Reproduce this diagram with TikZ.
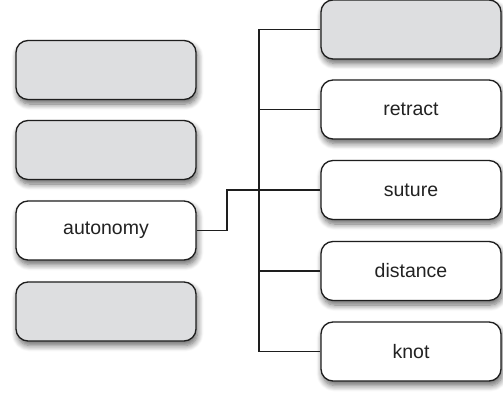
\documentclass[tikz,border=0pt]{standalone}
\usepackage{fontspec}
\setmainfont{Liberation Sans}
\usetikzlibrary{shadows.blur}
\definecolor{boxgray}{HTML}{DDDEE0}
\definecolor{edge}{HTML}{1E1E1E}
\definecolor{ink}{HTML}{222222}
\tikzset{
  card/.style={draw=edge, line width=1.3pt, rounded corners=12pt,
    minimum width=180pt, minimum height=59pt, inner sep=0pt, fill=white, text=ink,
    blur shadow={shadow xshift=1.5pt, shadow yshift=-4.5pt, shadow blur steps=8, shadow blur radius=6pt, shadow opacity=60},
    font=\fontsize{19.5}{22}\selectfont},
  blank/.style={card, fill=boxgray},
  link/.style={draw=edge, line width=1.1pt}
}
\begin{document}
\begin{tikzpicture}[x=1pt,y=-1pt]
\useasboundingbox (0,0) rectangle (503,393);
\node[blank] (l1) at (106,70) {};
\node[blank] (l2) at (106,150) {};
\node[card] (auto) at (106,230.5) {autonomy};
\node[blank] (l4) at (106,311.5) {};
\node[blank] (r1) at (411,29.5) {};
\node[card] (r2) at (411,109.5) {retract};
\node[card] (r3) at (411,190) {suture};
\node[card] (r4) at (411,271) {distance};
\node[card] (r5) at (411,351.5) {knot};
\coordinate (bus) at (259,0);
\coordinate (elbow) at (227,0);
\draw[link] (r1.west) -- (r1.west -| bus) -- (r5.west -| bus) -- (r5.west);
\draw[link] (r2.west -| bus) -- (r2.west);
\draw[link] (r4.west -| bus) -- (r4.west);
\draw[link] (auto.east) -- (auto.east -| elbow) -- (r3.west -| elbow) -- (r3.west);
\end{tikzpicture}
\end{document}
